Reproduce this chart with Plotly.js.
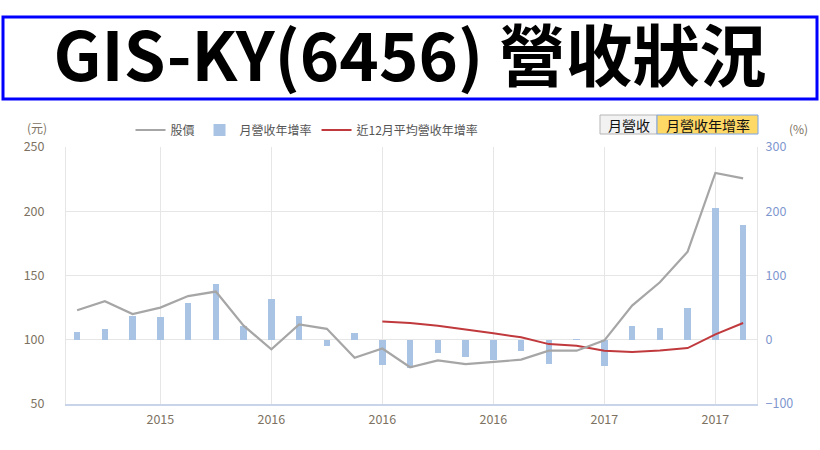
<!DOCTYPE html>
<html>
<head>
<meta charset="utf-8">
<script src="https://cdn.plot.ly/plotly-3.0.1.min.js"></script>
<style>html,body{margin:0;padding:0;background:#fff;}#chart{width:820px;height:450px;}</style>
</head>
<body>
<div id="chart"></div>
<script>
// Quarterly points (index positions on the category axis)
const periods = [0,1,2,3,4,5,6,7,8,9,10,11,12,13,14,15,16,17,18,19,20,21,22,23,24];
const tickPositions = [3,7,11,15,19,23];
const tickLabels = ['2015','2016','2016','2016','2017','2017'];

// 股價 (元)
const price = [123,130,120,125,134,137.5,111,92.5,112,108.5,86,93.2,78.6,84,81,82.6,84.5,91.5,91.5,99.5,126.6,144.7,168.5,229.8,225.6];
// 月營收年增率 (%)
const revYoY = [12,17,37.5,36,56.5,87.5,22,63.5,37.5,-9,10.3,-40,-44,-20.3,-27.5,-31,-18,-38,1.2,-41,22,18.5,49.5,205.5,178];
// 近12月平均營收年增率 (%)
const avg12 = [null,null,null,null,null,null,null,null,null,null,null,28.3,26,21.8,16.3,10,3.8,-6.8,-9.3,-17,-19,-16.8,-12.9,8.5,26];

const FONT = '"Noto Sans CJK TC", "Noto Sans", sans-serif';

const traces = [
  {
    x: periods, y: price, name: '股價', type: 'scatter', mode: 'lines',
    yaxis: 'y2', line: {color: '#a6a6a6', width: 2.2}
  },
  {
    x: periods, y: revYoY, name: '月營收年增率', type: 'bar',
    yaxis: 'y', width: 0.24, marker: {color: '#a9c3e4', line: {width: 0}}
  },
  {
    x: periods, y: avg12, name: '近12月平均營收年增率', type: 'scatter', mode: 'lines',
    yaxis: 'y', line: {color: '#c0393c', width: 2}
  }
];

// paper coordinate helpers (plot area: x 66..757, y 147..404 px)
const px = v => (v - 66) / 691;
const py = v => (404 - v) / 257;

const layout = {
  width: 820, height: 450,
  margin: {l: 66, r: 63, t: 147, b: 46, pad: 0},
  paper_bgcolor: '#ffffff', plot_bgcolor: '#ffffff',
  font: {family: FONT, size: 12, color: '#555555'},
  title: {
    text: 'GIS-KY(6456) 營收狀況',
    x: 0.5, xref: 'container', xanchor: 'center',
    y: 1 - 58 / 450, yref: 'container', yanchor: 'middle',
    font: {family: FONT, size: 67, color: '#000000', weight: 'bold'}
  },
  showlegend: true,
  legend: {
    orientation: 'h', x: px(307), xanchor: 'center', y: py(130), yanchor: 'middle',
    font: {family: FONT, size: 12, color: '#555555'},
    bgcolor: 'rgba(0,0,0,0)', traceorder: 'normal', itemwidth: 30
  },
  bargap: 0,
  xaxis: {
    range: [-0.4, 24.5], tickmode: 'array', tickvals: tickPositions, ticktext: tickLabels,
    showgrid: true, gridcolor: '#e6e6e6', gridwidth: 1, zeroline: false,
    showline: true, linecolor: '#c7d4ea', linewidth: 2, mirror: false,
    ticks: 'outside', ticklen: 3, tickcolor: 'rgba(0,0,0,0)',
    tickfont: {family: FONT, size: 12.5, color: '#7d7262'}, fixedrange: true
  },
  yaxis: {
    side: 'right', range: [-100, 300], tickvals: [-100, 0, 100, 200, 300],
    showgrid: false, zeroline: false,
    showline: true, linecolor: '#e6e6e6', linewidth: 1,
    ticks: 'outside', ticklen: 5, tickcolor: 'rgba(0,0,0,0)',
    tickfont: {family: FONT, size: 12.5, color: '#7f97cf'}, fixedrange: true
  },
  yaxis2: {
    side: 'left', overlaying: 'y', range: [50, 250], tickvals: [50, 100, 150, 200, 250],
    showgrid: true, gridcolor: '#e6e6e6', gridwidth: 1, zeroline: false,
    showline: true, linecolor: '#e6e6e6', linewidth: 1,
    ticks: 'outside', ticklen: 18, tickcolor: 'rgba(0,0,0,0)',
    tickfont: {family: FONT, size: 12.5, color: '#7d7262'}, fixedrange: true
  },
  shapes: [
    // title frame
    {type: 'rect', xref: 'paper', yref: 'paper', x0: px(3), x1: px(817), y0: py(99), y1: py(17),
     line: {color: '#0000ff', width: 3}, fillcolor: 'rgba(0,0,0,0)', layer: 'above'},
    // buttons
    {type: 'rect', xref: 'paper', yref: 'paper', x0: px(600), x1: px(657), y0: py(134), y1: py(115),
     line: {color: '#b5b5b5', width: 1}, fillcolor: '#f2f2f2', layer: 'above'},
    {type: 'rect', xref: 'paper', yref: 'paper', x0: px(657), x1: px(758), y0: py(134), y1: py(115),
     line: {color: '#7aa2e6', width: 1}, fillcolor: '#ffd966', layer: 'above'}
  ],
  annotations: [
    {text: '(元)', xref: 'paper', yref: 'paper', x: px(37), y: py(127), showarrow: false,
     xanchor: 'center', yanchor: 'middle', font: {family: FONT, size: 12, color: '#7d7262'}},
    {text: '(%)', xref: 'paper', yref: 'paper', x: px(798), y: py(128), showarrow: false,
     xanchor: 'center', yanchor: 'middle', font: {family: FONT, size: 12, color: '#7d7262'}},
    {text: '月營收', xref: 'paper', yref: 'paper', x: px(628.5), y: py(124.5), showarrow: false,
     xanchor: 'center', yanchor: 'middle', font: {family: FONT, size: 14, color: '#111111'}},
    {text: '月營收年增率', xref: 'paper', yref: 'paper', x: px(707.5), y: py(124.5), showarrow: false,
     xanchor: 'center', yanchor: 'middle', font: {family: FONT, size: 14, color: '#111111'}}
  ]
};

Plotly.newPlot('chart', traces, layout, {staticPlot: true, displayModeBar: false});
</script>
</body>
</html>
